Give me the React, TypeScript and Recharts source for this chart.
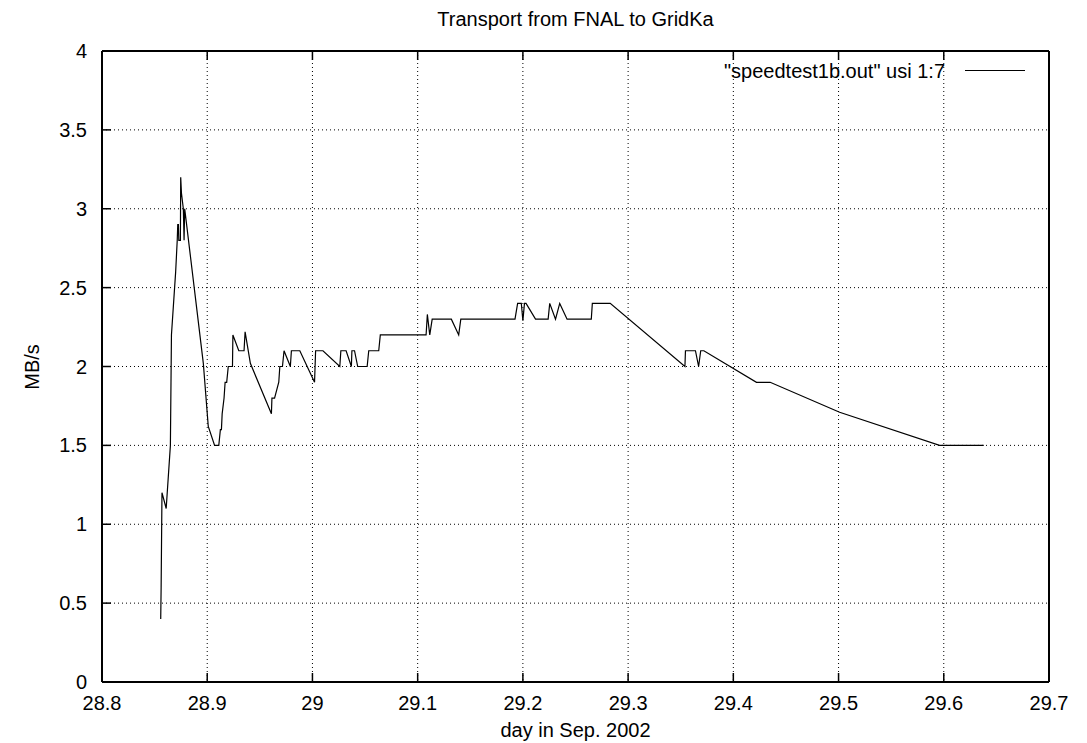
import { LineChart, Line, XAxis, YAxis, CartesianGrid } from "recharts";

// day of month (Sep. 2002) and transfer rate in MB/s
const days = [
  28.8558, 28.8562, 28.857, 28.861, 28.865, 28.866, 28.87, 28.8715, 28.872, 28.8726,
  28.873, 28.8745, 28.8748, 28.8755, 28.8773, 28.878, 28.8786, 28.8963, 28.901, 28.907,
  28.911, 28.9125, 28.9135, 28.9142, 28.916, 28.917, 28.9185, 28.92, 28.924, 28.9244,
  28.93, 28.935, 28.936, 28.941, 28.961, 28.9615, 28.964, 28.968, 28.969, 28.9715,
  28.973, 28.979, 28.98, 28.988, 29.002, 29.003, 29.01, 29.026, 29.027, 29.032,
  29.037, 29.0375, 29.04, 29.043, 29.052, 29.0535, 29.063, 29.0645, 29.108, 29.1092,
  29.1115, 29.1138, 29.132, 29.139, 29.141, 29.1925, 29.195, 29.1985, 29.2, 29.2015,
  29.203, 29.212, 29.224, 29.2255, 29.231, 29.235, 29.242, 29.265, 29.266, 29.283,
  29.354, 29.3545, 29.364, 29.367, 29.369, 29.372, 29.422, 29.435, 29.501, 29.596,
  29.638,
];
const rates = [
  0.4, 0.6, 1.2, 1.1, 1.5, 2.2, 2.6, 2.8, 2.9, 2.9,
  2.8, 2.8, 3.2, 3.1, 3.0, 2.8, 3.0, 2.02, 1.62, 1.5,
  1.5, 1.6, 1.6, 1.7, 1.8, 1.9, 1.9, 2.0, 2.0, 2.2,
  2.1, 2.1, 2.22, 2.02, 1.7, 1.8, 1.8, 1.9, 2.0, 2.0,
  2.1, 2.0, 2.1, 2.1, 1.9, 2.1, 2.1, 2.0, 2.1, 2.1,
  2.0, 2.1, 2.1, 2.0, 2.0, 2.1, 2.1, 2.2, 2.2, 2.33,
  2.2, 2.3, 2.3, 2.2, 2.3, 2.3, 2.4, 2.4, 2.29, 2.4,
  2.4, 2.3, 2.3, 2.4, 2.3, 2.4, 2.3, 2.3, 2.4, 2.4,
  2.0, 2.1, 2.1, 2.0, 2.1, 2.1, 1.9, 1.9, 1.71, 1.5,
  1.5,
];

const xTicks = [28.8, 28.9, 29, 29.1, 29.2, 29.3, 29.4, 29.5, 29.6, 29.7];
const yTicks = [0, 0.5, 1, 1.5, 2, 2.5, 3, 3.5, 4];

const data = days.map((d, i) => ({ day: d, rate: rates[i] }));

const font = "'Liberation Sans', Arial, Helvetica, sans-serif";
const TICK = 9;

const BottomTick = (props: any) => {
  const { x, y, payload } = props;
  return (
    <g>
      <line x1={x} x2={x} y1={y} y2={y - TICK} stroke="#000" strokeWidth={1.5} />
      <text x={x} y={y + 28} textAnchor="middle" fontSize={20} fontFamily={font} fill="#000">
        {payload.value}
      </text>
    </g>
  );
};

const TopTick = (props: any) => {
  const { x, y } = props;
  return <line x1={x} x2={x} y1={y} y2={y + TICK} stroke="#000" strokeWidth={1.5} />;
};

const LeftTick = (props: any) => {
  const { x, y, payload } = props;
  return (
    <g>
      <line x1={x} x2={x + TICK} y1={y} y2={y} stroke="#000" strokeWidth={1.5} />
      <text x={x - 15} y={y + 7} textAnchor="end" fontSize={20} fontFamily={font} fill="#000">
        {payload.value}
      </text>
    </g>
  );
};

const RightTick = (props: any) => {
  const { x, y } = props;
  return <line x1={x} x2={x - TICK} y1={y} y2={y} stroke="#000" strokeWidth={1.5} />;
};

export default function App() {
  return (
    <div
      style={{
        position: "absolute",
        left: 0,
        top: 0,
        width: 1087,
        height: 743,
        background: "#fff",
        fontFamily: font,
        color: "#000",
      }}
    >
      <LineChart
        width={1087}
        height={743}
        data={data}
        margin={{ top: 21, left: 42, right: 8, bottom: 31 }}
      >
        <CartesianGrid stroke="#000" strokeDasharray="1 3" strokeWidth={1} />
        <XAxis
          dataKey="day"
          type="number"
          domain={[28.8, 29.7]}
          ticks={xTicks}
          height={30}
          tickSize={0}
          tickMargin={0}
          tickLine={false}
          interval={0}
          axisLine={{ stroke: "#000", strokeWidth: 2 }}
          tick={BottomTick}
        />
        <XAxis
          xAxisId="top"
          orientation="top"
          dataKey="day"
          type="number"
          domain={[28.8, 29.7]}
          ticks={xTicks}
          height={30}
          tickSize={0}
          tickMargin={0}
          tickLine={false}
          interval={0}
          axisLine={{ stroke: "#000", strokeWidth: 2 }}
          tick={TopTick}
        />
        <YAxis
          type="number"
          domain={[0, 4]}
          ticks={yTicks}
          width={60}
          tickSize={0}
          tickMargin={0}
          tickLine={false}
          interval={0}
          axisLine={{ stroke: "#000", strokeWidth: 2 }}
          tick={LeftTick}
        />
        <YAxis
          yAxisId="right"
          orientation="right"
          type="number"
          domain={[0, 4]}
          ticks={yTicks}
          width={30}
          tickSize={0}
          tickMargin={0}
          tickLine={false}
          interval={0}
          axisLine={{ stroke: "#000", strokeWidth: 2 }}
          tick={RightTick}
        />
        <Line
          type="linear"
          dataKey="rate"
          stroke="#000"
          strokeWidth={1.2}
          dot={false}
          isAnimationActive={false}
        />
      </LineChart>

      {/* title, axis labels and legend */}
      <div style={{ position: "absolute", left: 102, width: 947, top: 9, lineHeight: "20px", fontSize: 20, textAlign: "center" }}>
        Transport from FNAL to GridKa
      </div>
      <div style={{ position: "absolute", left: 102, width: 947, top: 720, lineHeight: "20px", fontSize: 20, textAlign: "center" }}>
        day in Sep. 2002
      </div>
      <div
        style={{
          position: "absolute",
          left: -18,
          top: 356.5,
          width: 100,
          lineHeight: "20px",
          fontSize: 20,
          textAlign: "center",
          transform: "rotate(-90deg)",
        }}
      >
        MB/s
      </div>
      <div style={{ position: "absolute", right: 142, top: 61, lineHeight: "20px", fontSize: 20, whiteSpace: "nowrap" }}>
        "speedtest1b.out" usi 1:7
      </div>
      <div style={{ position: "absolute", left: 965, width: 60, top: 70, height: 1, background: "#000" }} />
    </div>
  );
}
